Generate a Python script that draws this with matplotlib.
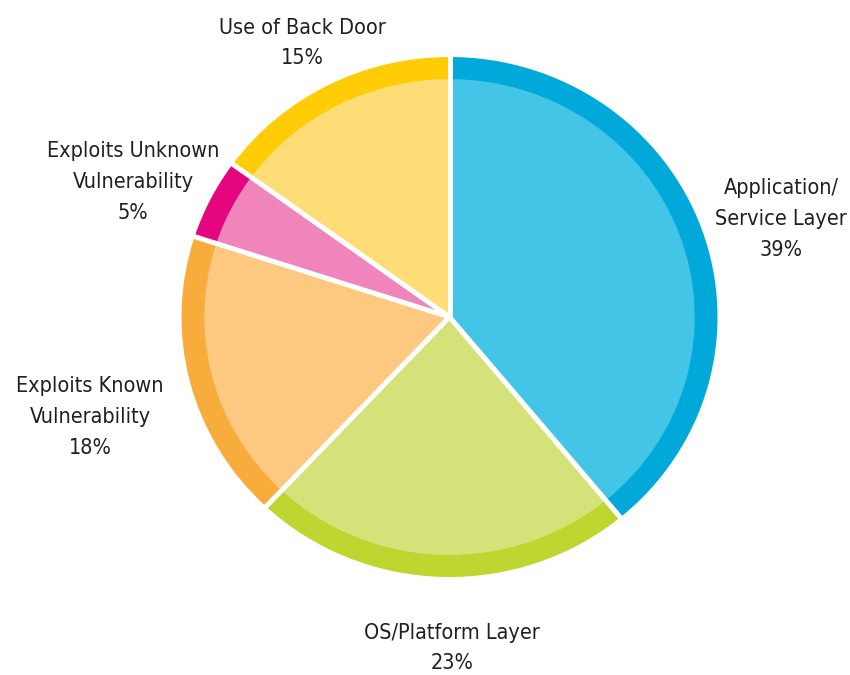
import numpy as np
import matplotlib.pyplot as plt

# slices, clockwise from 12 o'clock
labels = ['Application/\nService Layer', 'OS/Platform Layer', 'Exploits Known\nVulnerability',
          'Exploits Unknown\nVulnerability', 'Use of Back Door']
values = [39, 23, 18, 5, 15]
dark = ['#00a9d9', '#bfd630', '#f8ac3b', '#e5067f', '#ffcc05']
light = ['#43c5e7', '#d5e27a', '#fdc87f', '#ef85ba', '#fedc76']

# label anchor positions in pixels (x, y from top)
label_pos = [(781, 219), (452, 648), (90, 417), (133, 182), (302, 43)]

W, H = 850, 675
fig = plt.figure(figsize=(8.5, 6.75), dpi=100)
fig.patch.set_facecolor('white')

cx, cy, rx, ry = 449.5, 317, 268, 260
ax = fig.add_axes([(cx - rx) / W, (H - cy - ry) / H, 2 * rx / W, 2 * ry / H])

ax.pie(values, colors=dark, startangle=90, counterclock=False, radius=1.0,
       wedgeprops=dict(edgecolor='none', linewidth=0))
ax.pie(values, colors=light, startangle=90, counterclock=False, radius=0.915,
       wedgeprops=dict(edgecolor='none', linewidth=0))

# white separators between slices
cum = np.cumsum([0] + values[:-1])
for c in cum:
    ang = np.deg2rad(90 - 360 * c / sum(values))
    ax.plot([0, 1.05 * np.cos(ang)], [0, 1.05 * np.sin(ang)], color='white',
            lw=3.6, solid_capstyle='butt', zorder=5)

ax.set_aspect('auto')
ax.set_xlim(-1, 1)
ax.set_ylim(-1, 1)
ax.axis('off')

for lab, v, (x, y) in zip(labels, values, label_pos):
    fig.text(x / W, 1 - y / H, f'{lab}\n{v}%', ha='center', va='center',
             fontsize=15.5, color='#231f20', linespacing=1.68,
             family=['Liberation Sans Narrow', 'DejaVu Sans'], fontstretch='condensed')

fig.savefig('out.png', dpi=100, facecolor='white')
